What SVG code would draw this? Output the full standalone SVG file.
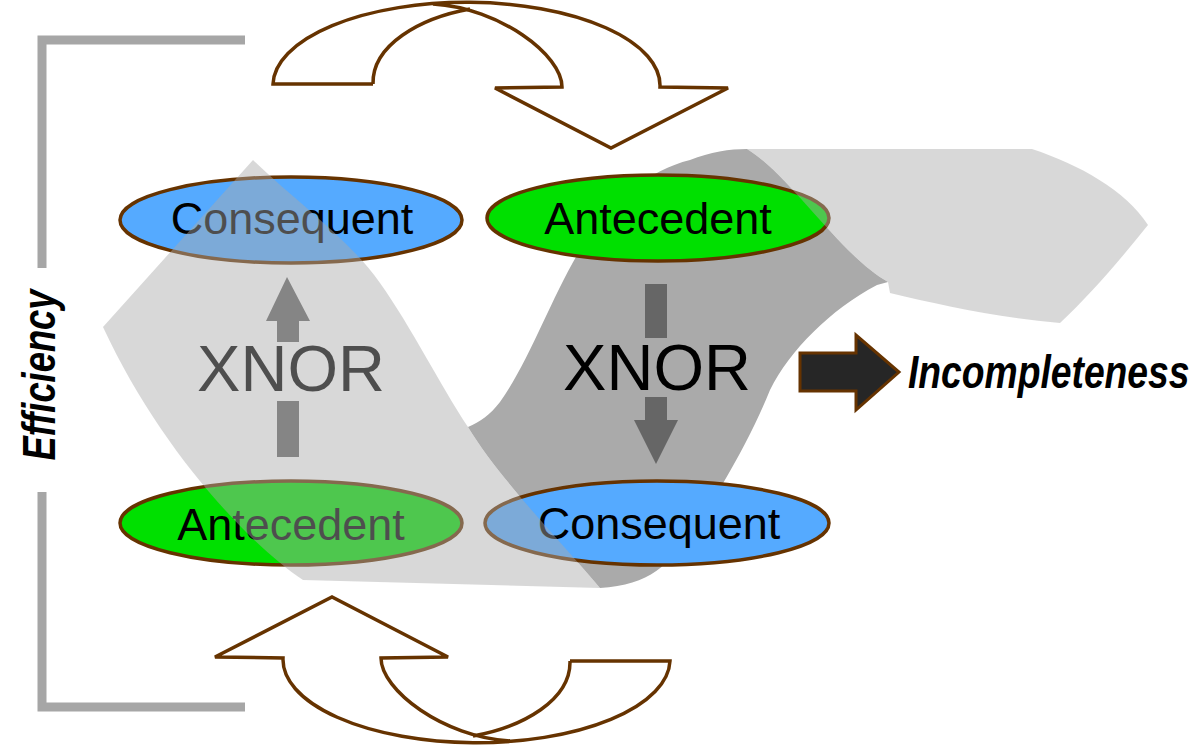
<svg xmlns="http://www.w3.org/2000/svg" width="1200" height="747" viewBox="0 0 1200 747">
  <style>
    .node-text { font-family: "Liberation Sans", Arial, sans-serif; font-size: 45px; fill: #000; text-anchor: middle; }
    .xnor { font-family: "Liberation Sans", Arial, sans-serif; font-size: 65px; fill: #000; text-anchor: middle; }
    .label { font-family: "Liberation Sans", Arial, sans-serif; font-size: 46px; font-weight: bold; font-style: italic; fill: #000; }
    .ell { stroke: #663300; stroke-width: 3.5; }
    .blue { fill: #55aaff; }
    .green { fill: #00e000; }
    .bigarrow { fill: #ffffff; stroke: #663300; stroke-width: 3.5; stroke-linejoin: miter; }
    .band { fill: #aaaaaa; fill-opacity: 0.46; }
    .bracket { fill: none; stroke: #a6a6a6; stroke-width: 9; }
    .xarrow { fill: #666666; }
  </style>

  <!-- dark band (opaque) -->
  <g id="dark-band">
    <path fill="#aaaaaa" d="M 888,282 L 877,285 C 830,310 790,350 770,390 C 758,420 740,455 722,485 L 690,530 C 670,565 650,585 600,588 C 560,540 500,480 468,427 C 480,422 490,415 500,402 C 530,360 550,300 580,250 C 610,200 650,170 690,160 C 710,152 730,149 747,149 C 790,175 840,255 888,282 Z"/>
  </g>

  <!-- nodes -->
  <g id="node-consequent-top">
    <ellipse class="ell blue" cx="291" cy="220" rx="171" ry="43"/>
    <text class="node-text" x="292" y="234">Consequent</text>
  </g>
  <g id="node-antecedent-top">
    <ellipse class="ell green" cx="658" cy="218" rx="171" ry="43"/>
    <text class="node-text" x="658" y="234">Antecedent</text>
  </g>
  <g id="node-antecedent-bottom">
    <ellipse class="ell green" cx="291" cy="523" rx="171" ry="42"/>
    <text class="node-text" x="291" y="540">Antecedent</text>
  </g>
  <g id="node-consequent-bottom">
    <ellipse class="ell blue" cx="657" cy="523" rx="172" ry="42"/>
    <text class="node-text" x="659" y="539">Consequent</text>
  </g>

  <!-- connectors -->
  <g id="connectors">
    <g id="xnor-left">
      <polygon class="xarrow" points="287,277 310,321 299,321 299,342 277,342 277,321 266,321"/>
      <rect class="xarrow" x="277" y="401" width="22" height="56"/>
      <text class="xnor" x="291" y="391">XNOR</text>
    </g>
    <g id="xnor-right">
      <rect class="xarrow" x="645" y="284" width="22" height="54"/>
      <polygon class="xarrow" points="645,397 667,397 667,420 678,420 656,464 634,420 645,420"/>
      <text class="xnor" x="657" y="390">XNOR</text>
    </g>
  </g>

  <!-- translucent bands on top -->
  <g id="light-bands">
    <path class="band" d="M 253,160 C 300,205 350,240 380,283 C 412,328 440,385 468,427 C 500,480 560,540 600,588 L 303,580 C 250,545 160,450 103,327 Z"/>
    <path class="band" d="M 747,149 L 1032,149 C 1080,165 1125,190 1148,225 C 1120,260 1090,295 1060,323 C 1000,318 940,305 890,293 L 888,282 C 840,255 790,175 747,149 Z"/>
  </g>

  <!-- curved arrows -->
  <g id="curved-arrow-top">
    <path class="bigarrow" d="M 373,84 L 273,84 A 193 83 0 0 1 660,87 L 728,88 L 611,148 L 495,88 L 562,87 C 562,55 500,8 433,4"/>
    <path class="bigarrow" fill="none" d="M 373,84 C 372,45 420,18 470,9"/>
  </g>
  <g id="curved-arrow-bottom" transform="rotate(180 471.5 372.5)">
    <path class="bigarrow" d="M 373,84 L 273,84 A 193 83 0 0 1 660,87 L 728,88 L 611,148 L 495,88 L 562,87 C 562,55 500,8 433,4"/>
    <path class="bigarrow" fill="none" d="M 373,84 C 372,45 420,18 470,9"/>
  </g>

  <!-- efficiency bracket -->
  <g id="efficiency">
    <polyline class="bracket" points="245,40 42,40 42,268"/>
    <polyline class="bracket" points="42,492 42,707 245,707"/>
    <text class="label" text-anchor="middle" transform="translate(55,375) rotate(-90) scale(0.79,1)">Efficiency</text>
  </g>

  <!-- incompleteness -->
  <g id="incompleteness">
    <polygon fill="#262626" stroke="#663300" stroke-width="3" points="800,353 856,353 856,335 899,372 856,410 856,391 800,391"/>
    <text class="label" transform="translate(908,388) scale(0.81,1)">Incompleteness</text>
  </g>
</svg>
